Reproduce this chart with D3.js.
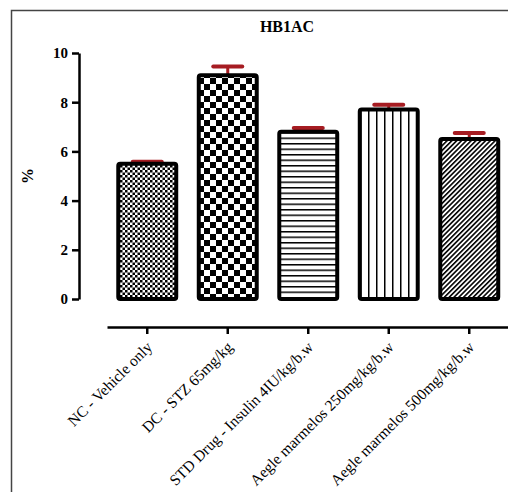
<!DOCTYPE html>
<html><head><meta charset="utf-8">
<script src="https://cdn.jsdelivr.net/npm/d3@7"></script>
<style>body{margin:0;background:#fff}svg{display:block}
svg text{font-family:"Liberation Serif","Times New Roman",Times,"DejaVu Serif",serif !important}</style>
</head><body>
<script>
const categories = ["NC - Vehicle only","DC - STZ 65mg/kg","STD Drug - Insulin 4IU/kg/b.w","Aegle marmelos 250mg/kg/b.w","Aegle marmelos 500mg/kg/b.w"];
const means = [5.5, 9.1, 6.8, 7.7, 6.5];
const sems = [0.08, 0.35, 0.15, 0.2, 0.25];
const yTicks = [0, 2, 4, 6, 8, 10];
const title = "HB1AC";
const yLabel = "%";

const W = 508, H = 492;
const svg = d3.select("body").append("svg").attr("width", W).attr("height", H);
svg.append("rect").attr("width", W).attr("height", H).attr("fill", "#fff");

// frame
svg.append("path").attr("d", "M11.5,492V10.5H508").attr("fill", "none").attr("stroke", "#444").attr("stroke-width", 1.5);

const defs = svg.append("defs");
function pat(id, w, h) {
  const p = defs.append("pattern").attr("id", id).attr("patternUnits", "userSpaceOnUse").attr("width", w).attr("height", h);
  p.append("rect").attr("width", w).attr("height", h).attr("fill", "#fff");
  return p;
}
let p = pat("p1", 5, 5);
p.append("rect").attr("width", 2.5).attr("height", 2.5).attr("fill", "#000");
p.append("rect").attr("x", 2.5).attr("y", 2.5).attr("width", 2.5).attr("height", 2.5).attr("fill", "#000");
p = pat("p2", 12, 12);
p.append("rect").attr("width", 6).attr("height", 6).attr("fill", "#000");
p.append("rect").attr("x", 6).attr("y", 6).attr("width", 6).attr("height", 6).attr("fill", "#000");
p = pat("p3", 10, 5.5);
p.append("rect").attr("y", 0).attr("width", 10).attr("height", 1.5).attr("fill", "#000");
p = pat("p4", 8, 10);
p.append("rect").attr("x", 0).attr("width", 1.5).attr("height", 10).attr("fill", "#000");
p = pat("p5", 3.4, 3.4).attr("patternTransform", "rotate(45)");
p.append("rect").attr("x", 0).attr("width", 1.6).attr("height", 3.4).attr("fill", "#000");
const fills = ["url(#p1)", "url(#p2)", "url(#p3)", "url(#p4)", "url(#p5)"];

const y = d3.scaleLinear().domain([0, 10]).range([299, 53]);
const x = d3.scaleBand().domain(categories).range([107, 509.5]).paddingInner(0.28).paddingOuter(0.14);

// title
svg.append("text").attr("x", 287).attr("y", 32).attr("text-anchor", "middle")
  .attr("font-weight", "bold").attr("font-size", 16).text(title);

// y axis
const ya = svg.append("g").attr("transform", "translate(79,0)")
  .call(d3.axisLeft(y).tickValues(yTicks).tickSize(7).tickSizeOuter(0).tickPadding(4));
ya.select(".domain").attr("stroke", "#000").attr("stroke-width", 2.5);
ya.selectAll(".tick line").attr("stroke", "#000").attr("stroke-width", 2.5);
ya.selectAll(".tick text").attr("font-weight", "bold").attr("font-size", 15).attr("fill", "#000");

svg.append("text").attr("transform", "translate(33,176) rotate(-90)").attr("text-anchor", "middle")
  .attr("font-weight", "bold").attr("font-size", 16).text(yLabel);

// error bars
const data = categories.map((c, i) => ({c, m: means[i], s: sems[i], f: fills[i]}));
const eb = svg.append("g");
data.forEach(d => {
  const cx = x(d.c) + x.bandwidth() / 2;
  eb.append("line").attr("x1", cx).attr("x2", cx).attr("y1", y(d.m)).attr("y2", y(d.m + d.s))
    .attr("stroke", "#a61c22").attr("stroke-width", 3);
  eb.append("line").attr("x1", cx - 14.5).attr("x2", cx + 14.5).attr("y1", y(d.m + d.s)).attr("y2", y(d.m + d.s))
    .attr("stroke", "#a61c22").attr("stroke-width", 4).attr("stroke-linecap", "round");
});

// bars
svg.append("g").selectAll("rect").data(data).join("rect")
  .attr("x", d => x(d.c)).attr("width", x.bandwidth())
  .attr("y", d => y(d.m)).attr("height", d => y(0) - y(d.m))
  .attr("rx", 2).attr("fill", d => d.f).attr("stroke", "#000").attr("stroke-width", 4);

// x axis
const xa = svg.append("g").attr("transform", "translate(0,327)")
  .call(d3.axisBottom(x).tickSize(7).tickSizeOuter(0));
xa.select(".domain").attr("stroke", "#000").attr("stroke-width", 2.5);
xa.selectAll(".tick line").attr("stroke", "#000").attr("stroke-width", 2.5);
xa.selectAll(".tick text").attr("font-size", 15.5).attr("fill", "#000")
  .attr("text-anchor", "end").attr("y", 0).attr("dy", 0)
  .attr("transform", "translate(6,21) rotate(-45)");
</script>
</body></html>
